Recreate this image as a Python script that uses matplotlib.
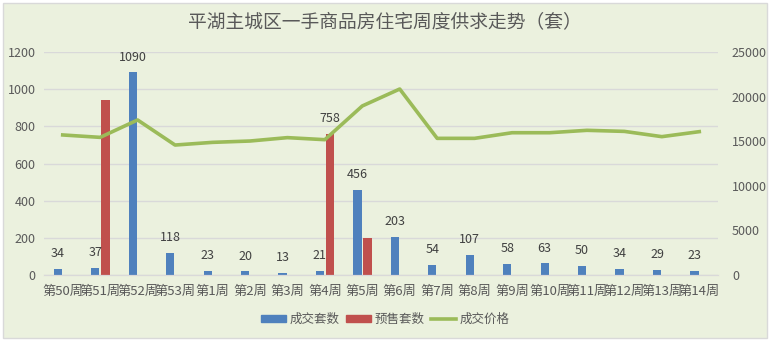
import numpy as np
import matplotlib.pyplot as plt
from matplotlib.patches import Rectangle, Patch
from matplotlib.lines import Line2D

plt.rcParams['font.family'] = ['Noto Sans CJK SC', 'DejaVu Sans']

weeks = ['第50周', '第51周', '第52周', '第53周', '第1周', '第2周', '第3周', '第4周', '第5周',
         '第6周', '第7周', '第8周', '第9周', '第10周', '第11周', '第12周', '第13周', '第14周']
sold = [34, 37, 1090, 118, 23, 20, 13, 21, 456, 203, 54, 107, 58, 63, 50, 34, 29, 23]
presale = [0, 940, 0, 0, 0, 0, 0, 758, 200, 0, 0, 0, 0, 0, 0, 0, 0, 0]
price = [15700, 15430, 17380, 14570, 14870, 15020, 15400, 15170, 18950, 20850,
         15320, 15320, 15950, 15950, 16220, 16100, 15510, 16070]
presale_labeled = [7]  # only this presale bar carries a value label

bg = '#EBF1DE'
blue = '#4F81BD'
red = '#C0504D'
green = '#9BBB59'
grid_c = '#D9D9D9'
txt = '#595959'

fig = plt.figure(figsize=(7.7, 3.41), dpi=100, facecolor='white')
fig.patches.append(Rectangle((3 / 770, 3 / 341), 764 / 770, 335 / 341, transform=fig.transFigure,
                             facecolor=bg, edgecolor=grid_c, lw=1, zorder=-10))

ax = fig.add_axes([44 / 770, 66 / 341, 674 / 770, 223 / 341])
ax.set_facecolor('none')
ax2 = ax.twinx()

x = np.arange(len(weeks))
ax.bar(x - 0.13, sold, 0.22, color=blue, zorder=2)
ax.bar(x + 0.14, presale, 0.22, color=red, zorder=2)

for xi, v in zip(x, sold):
    ax.annotate(str(v), (xi - 0.13, v), xytext=(0, 11), textcoords='offset points',
                ha='center', va='center', fontsize=9, color='#404040')
for i in presale_labeled:
    ax.annotate(str(presale[i]), (x[i] + 0.14, presale[i]), xytext=(0, 11), textcoords='offset points',
                ha='center', va='center', fontsize=9, color='#404040')

ax2.plot(x, price, color=green, lw=2.6, solid_joinstyle='round', zorder=3)

ax.set_xlim(-0.5, len(weeks) - 0.5)
ax.set_ylim(0, 1200)
ax.set_yticks(range(0, 1201, 200))
ax2.set_ylim(0, 25000)
ax2.set_yticks(range(0, 25001, 5000))

ax.set_xticks(x)
ax.set_xticklabels(weeks, fontsize=9.5, color=txt)
ax.tick_params(axis='x', length=0, pad=7)
ax.tick_params(axis='y', length=0, pad=6, labelsize=9, labelcolor=txt)
ax2.tick_params(axis='y', length=0, pad=10, labelsize=9, labelcolor=txt)

ax.grid(axis='y', color=grid_c, lw=1, zorder=0)
ax.set_axisbelow(True)
for a in (ax, ax2):
    for s in ('top', 'left', 'right'):
        a.spines[s].set_visible(False)
    a.spines['bottom'].set_color(grid_c)

fig.text(0.5, 1 - 22 / 341, '平湖主城区一手商品房住宅周度供求走势（套）', ha='center', va='center',
         fontsize=13.5, color=txt)

handles = [Patch(color=blue), Patch(color=red), Line2D([], [], color=green, lw=2.6)]
leg = fig.legend(handles, ['成交套数', '预售套数', '成交价格'], loc='center',
                 bbox_to_anchor=(385 / 770, 22 / 341), ncol=3, frameon=False, fontsize=9,
                 handlelength=2.0, handleheight=0.5, columnspacing=0.5, handletextpad=0.3)
for t in leg.get_texts():
    t.set_color(txt)

fig.savefig('out.png', dpi=100, facecolor=fig.get_facecolor())
